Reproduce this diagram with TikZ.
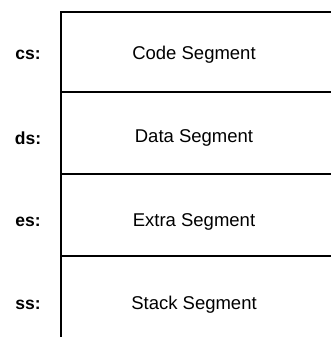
\documentclass[tikz,border=0pt]{standalone}
\usepackage{fontspec}
\setmainfont{Liberation Sans}
\begin{document}
\begin{tikzpicture}[x=1pt,y=-1pt,
  seg/.style={font=\fontsize{18.5}{22}\selectfont, anchor=center},
  reg/.style={font=\fontsize{17.5}{20}\selectfont\bfseries, anchor=center},
  rule/.style={line width=2pt}]
\useasboundingbox (0,0) rectangle (331,337);
\coordinate (tl) at (61,12);
\coordinate (bl) at (61,337);
\coordinate (tr) at (331,12);
\coordinate (l1) at (61,92);
\coordinate (r1) at (331,92);
\coordinate (l2) at (61,174);
\coordinate (r2) at (331,174);
\coordinate (l3) at (61,256);
\coordinate (r3) at (331,256);
\draw[rule] (tl) -- (bl);
\draw[rule] ([xshift=-1pt]tl) -- (tr);
\draw[rule] (l1) -- (r1);
\draw[rule] (l2) -- (r2);
\draw[rule] (l3) -- (r3);
\node[reg] (cs) at (28,55) {cs:};
\node[reg] (ds) at (28,138) {ds:};
\node[reg] (es) at (28,222) {es:};
\node[reg] (ss) at (28,305) {ss:};
\node[seg] (code) at (194,55) {Code Segment};
\node[seg] (data) at (194,138) {Data Segment};
\node[seg] (extra) at (194,222) {Extra Segment};
\node[seg] (stack) at (194,305) {Stack Segment};
\end{tikzpicture}
\end{document}
